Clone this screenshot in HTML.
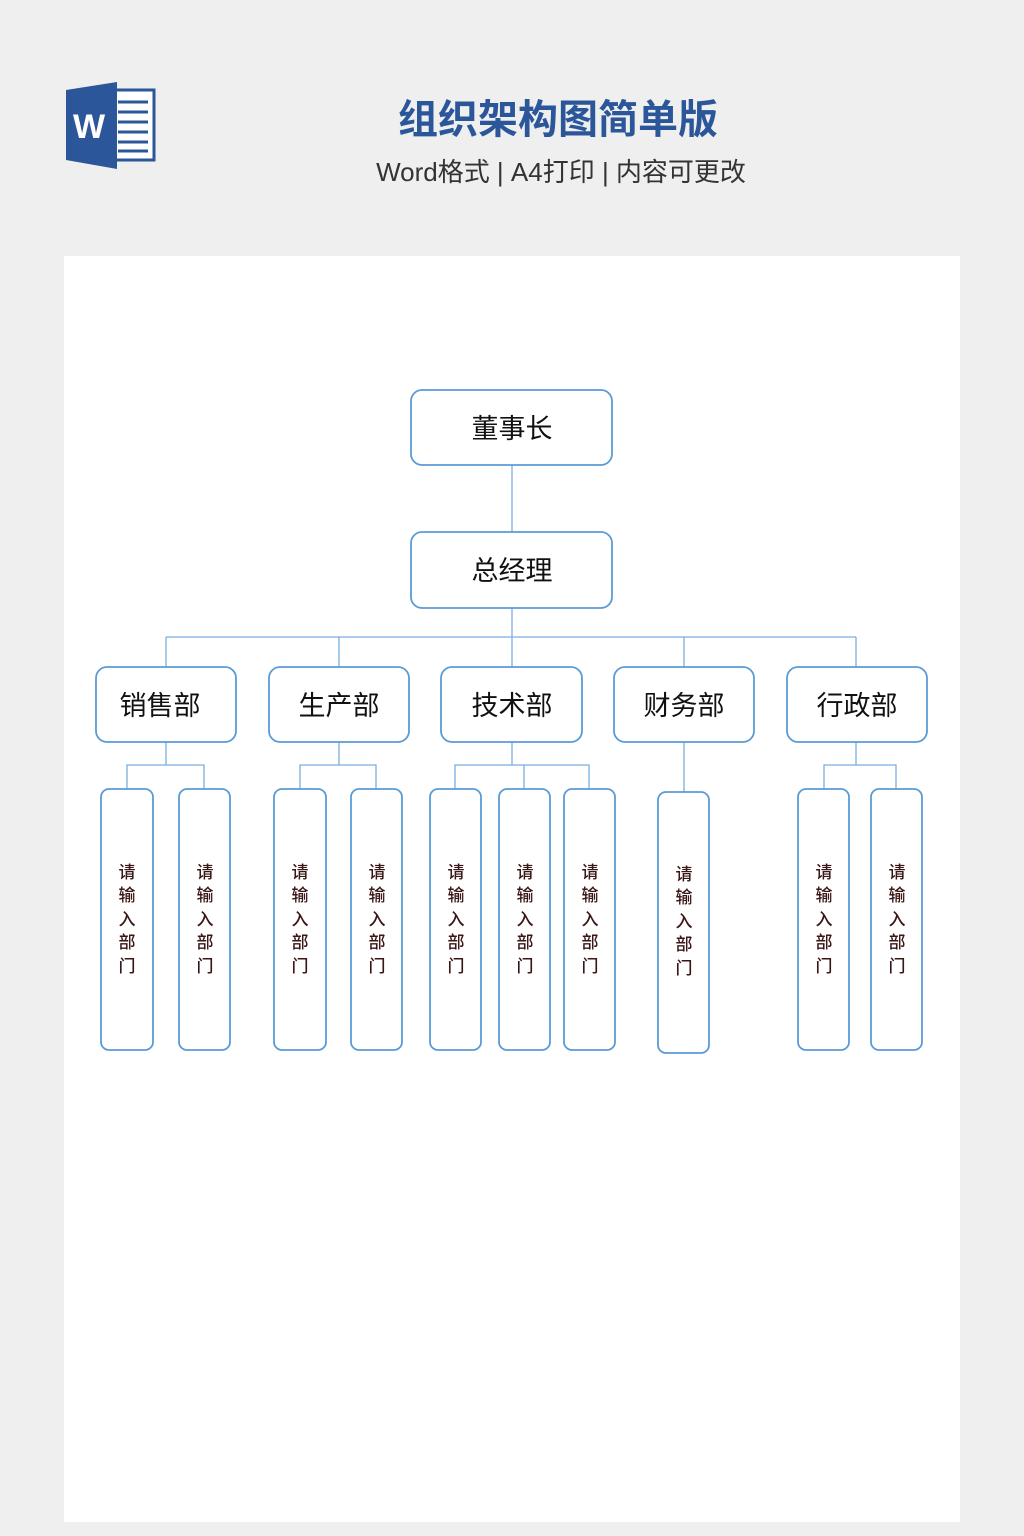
<!DOCTYPE html>
<html><head><meta charset="utf-8"><style>
html,body{margin:0;padding:0;background:#efefef;width:1024px;height:1536px;overflow:hidden}
svg{display:block}
text{font-family:"Liberation Sans","Noto Sans CJK SC",sans-serif}
</style></head><body>
<svg width="1024" height="1536" viewBox="0 0 1024 1536" xmlns="http://www.w3.org/2000/svg">
<rect x="0" y="0" width="1024" height="1536" fill="#efefef"/>
<rect x="104" y="90" width="50" height="70" fill="#fff" stroke="#2b579a" stroke-width="3"/>
<g stroke="#2b579a" stroke-width="3">
<line x1="118" y1="102" x2="148" y2="102"/><line x1="118" y1="112" x2="148" y2="112"/>
<line x1="118" y1="122" x2="148" y2="122"/><line x1="118" y1="132" x2="148" y2="132"/>
<line x1="118" y1="142" x2="148" y2="142"/><line x1="118" y1="151" x2="148" y2="151"/>
</g>
<polygon points="66,90 117,82 117,169 66,160" fill="#2b579a"/>
<text x="89" y="138" font-size="34" font-weight="bold" fill="#fff" text-anchor="middle">W</text>
<text x="558" y="133" font-size="40" font-weight="bold" fill="#2b579a" text-anchor="middle">组织架构图简单版</text>
<text x="561" y="181" font-size="26" fill="#333" text-anchor="middle">Word格式 | A4打印 | 内容可更改</text>
<rect x="64" y="256" width="896" height="1266" fill="#fff"/>
<g stroke="#7aaee0" stroke-width="1.3" fill="none">
<line x1="512" y1="465" x2="512" y2="532"/>
<line x1="512" y1="608" x2="512" y2="667"/>
<line x1="166" y1="637" x2="856" y2="637"/>
<line x1="166" y1="637" x2="166" y2="667"/><line x1="339" y1="637" x2="339" y2="667"/>
<line x1="684" y1="637" x2="684" y2="667"/><line x1="856" y1="637" x2="856" y2="667"/>
<path d="M166 742V765M127 789V765H204V789"/>
<path d="M339 742V765M300 789V765H376V789"/>
<path d="M512 742V765M455 789V765H589V789M524 765V789"/>
<path d="M684 742V792"/>
<path d="M856 742V765M824 789V765H896V789"/>
</g>
<g stroke="#5b9bd5" stroke-width="1.8" fill="#fff">
<rect x="411" y="390" width="201" height="75" rx="11"/>
<rect x="411" y="532" width="201" height="76" rx="11"/>
<rect x="96" y="667" width="140" height="75" rx="11"/>
<rect x="269" y="667" width="140" height="75" rx="11"/>
<rect x="441" y="667" width="141" height="75" rx="11"/>
<rect x="614" y="667" width="140" height="75" rx="11"/>
<rect x="787" y="667" width="140" height="75" rx="11"/>
<rect x="101" y="789" width="52" height="261" rx="8"/>
<rect x="179" y="789" width="51" height="261" rx="8"/>
<rect x="274" y="789" width="52" height="261" rx="8"/>
<rect x="351" y="789" width="51" height="261" rx="8"/>
<rect x="430" y="789" width="51" height="261" rx="8"/>
<rect x="499" y="789" width="51" height="261" rx="8"/>
<rect x="564" y="789" width="51" height="261" rx="8"/>
<rect x="658" y="792" width="51" height="261" rx="8"/>
<rect x="798" y="789" width="51" height="261" rx="8"/>
<rect x="871" y="789" width="51" height="261" rx="8"/>
</g>
<g font-size="27" fill="#111" text-anchor="middle">
<text x="512" y="438">董事长</text>
<text x="512" y="580">总经理</text>
<text x="160" y="715">销售部</text>
<text x="339" y="715">生产部</text>
<text x="512" y="715">技术部</text>
<text x="684" y="715">财务部</text>
<text x="857" y="715">行政部</text>
</g>
<g font-size="17" fill="#3a1616" text-anchor="middle" font-weight="500">
<text x="127" y="878">请</text><text x="127" y="901">输</text><text x="127" y="925">入</text><text x="127" y="948">部</text><text x="127" y="972">门</text>
<text x="205" y="878">请</text><text x="205" y="901">输</text><text x="205" y="925">入</text><text x="205" y="948">部</text><text x="205" y="972">门</text>
<text x="300" y="878">请</text><text x="300" y="901">输</text><text x="300" y="925">入</text><text x="300" y="948">部</text><text x="300" y="972">门</text>
<text x="377" y="878">请</text><text x="377" y="901">输</text><text x="377" y="925">入</text><text x="377" y="948">部</text><text x="377" y="972">门</text>
<text x="456" y="878">请</text><text x="456" y="901">输</text><text x="456" y="925">入</text><text x="456" y="948">部</text><text x="456" y="972">门</text>
<text x="525" y="878">请</text><text x="525" y="901">输</text><text x="525" y="925">入</text><text x="525" y="948">部</text><text x="525" y="972">门</text>
<text x="590" y="878">请</text><text x="590" y="901">输</text><text x="590" y="925">入</text><text x="590" y="948">部</text><text x="590" y="972">门</text>
<text x="684" y="880">请</text><text x="684" y="903">输</text><text x="684" y="927">入</text><text x="684" y="950">部</text><text x="684" y="974">门</text>
<text x="824" y="878">请</text><text x="824" y="901">输</text><text x="824" y="925">入</text><text x="824" y="948">部</text><text x="824" y="972">门</text>
<text x="897" y="878">请</text><text x="897" y="901">输</text><text x="897" y="925">入</text><text x="897" y="948">部</text><text x="897" y="972">门</text>
</g>
</svg>
</body></html>
